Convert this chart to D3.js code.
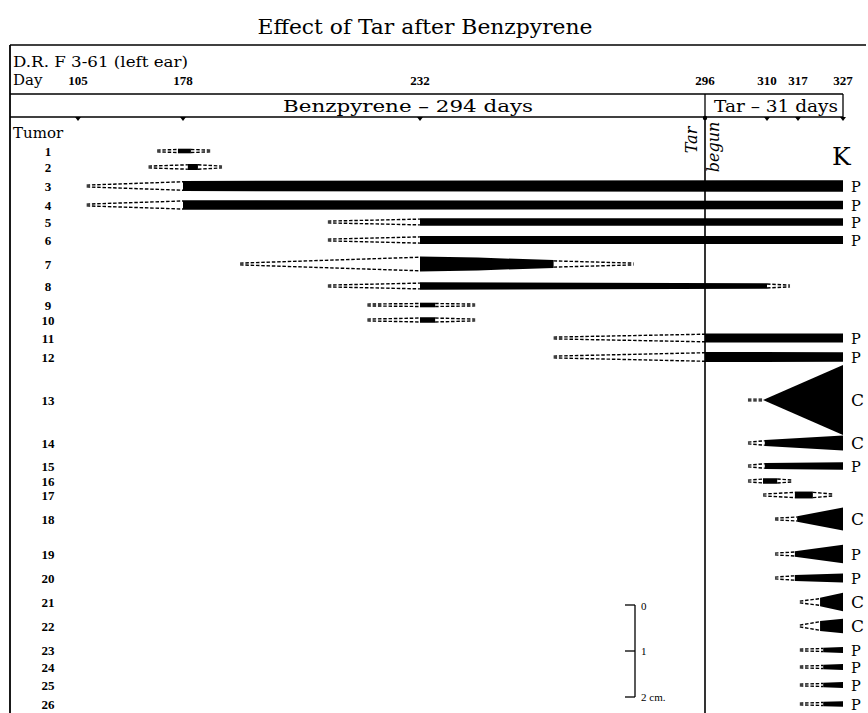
<!DOCTYPE html>
<html><head><meta charset="utf-8">
<script src="https://cdn.jsdelivr.net/npm/d3@7"></script>
<style>body{margin:0;background:#fff} svg{display:block} text{fill:#000}</style>
</head><body><svg id="c" width="868" height="713"></svg>
<script>
// ---------- data ----------
const title = "Effect of Tar after Benzpyrene";
const subject = "D.R. F 3-61 (left ear)";
const tickDays = [105, 178, 232, 296, 310, 317, 327];
const tarBegunDay = 296;
const lastDay = 327;
const phaseLabels = ["Benzpyrene – 294 days", "Tar – 31 days"];
const tumors = [1,2,3,4,5,6,7,8,9,10,11,12,13,14,15,16,17,18,19,20,21,22,23,24,25,26];
// day the dashed (not yet measurable) lead-in starts
const leadStart = [160,154,111,111,211,211,191,211,220,220,262,262,305.7,305.7,305.7,305.7,309.1,311.8,311.8,311.8,317.4,317.4,317.4,317.4,317.4,317.4];
// solid growth: days and diameters (cm)
const solidDays = [
  [174.5,179.8],[179.1,181.4],[178,327],[178,327],[232,327],[232,327],[232,245,262],[232,310],
  [232,235.4],[232,235.4],[296,327],[296,327],[309.1,327],[309.5,327],[309.5,327],[309.1,312.3],
  [316.3,320.3],[316.8,327],[316.3,327],[316.3,327],[321.9,327],[321.9,327],[322.6,327],[322.6,327],[322.6,327],[322.6,327]];
const solidSizes = [
  [0.1,0.1],[0.13,0.13],[0.22,0.25],[0.21,0.18],[0.16,0.16],[0.17,0.17],[0.33,0.28,0.17],[0.16,0.12],
  [0.1,0.1],[0.12,0.12],[0.2,0.2],[0.22,0.21],[0,1.52],[0.13,0.33],[0.13,0.16],[0.12,0.12],
  [0.15,0.15],[0.12,0.5],[0.12,0.4],[0.13,0.2],[0.18,0.4],[0.22,0.32],[0.1,0.13],[0.1,0.13],[0.1,0.13],[0.1,0.12]];
// day the dashed regression tail ends (null = none)
const tailEnd = [184.2,186.9,null,null,null,null,280,315.2,244.4,244.4,null,null,null,null,null,315.6,324.9,null,null,null,null,null,null,null,null,null];
const outcome = ["","","P","P","P","P","","","","","P","P","C","C","P","","","C","P","P","C","C","P","P","P","P"];
const scaleBarTicks = [0, 1, 2];

// ---------- layout ----------
const svg = d3.select("#c");
const serif = "DejaVu Serif";
const num = "Liberation Serif";
const frameL = 10, frameTop = 45, bandTop = 94, bandBot = 117;

const x = d3.scaleLinear().domain(tickDays).range([78,183,420,705,767,798,843]);
const yRow = d3.scaleOrdinal().domain(tumors)
  .range([151,167,186,205,222,240,264,286,305,320,338,357,400,443,466,481,495,519,554,578,602,626,650,667,685,704]);
const size = d3.scaleLinear().domain([0,2]).range([0,92]); // cm -> px

// title
svg.append("text").attr("x",425).attr("y",34).attr("text-anchor","middle")
  .attr("font-family",serif).attr("font-size",20).attr("textLength",335).attr("lengthAdjust","spacingAndGlyphs").text(title);

// frame
svg.append("line").attr("x1",frameL).attr("x2",866).attr("y1",frameTop).attr("y2",frameTop).attr("stroke","#000").attr("stroke-width",1.5);
svg.append("line").attr("x1",frameL).attr("x2",frameL).attr("y1",frameTop).attr("y2",713).attr("stroke","#000").attr("stroke-width",1.8);

svg.append("text").attr("x",13).attr("y",67).attr("font-family",serif).attr("font-size",14)
  .attr("textLength",175).attr("lengthAdjust","spacingAndGlyphs").text(subject);
svg.append("text").attr("x",13).attr("y",85).attr("font-family",serif).attr("font-size",15).text("Day");

svg.selectAll(".tk").data(tickDays).join("text").attr("class","tk")
  .attr("x",d=>x(d)).attr("y",85).attr("text-anchor","middle")
  .attr("font-family",num).attr("font-weight","bold").attr("font-size",13).text(d=>d);

// band
const band = svg.append("g").attr("stroke","#000").attr("stroke-width",1.3);
band.append("line").attr("x1",frameL).attr("x2",x(lastDay)).attr("y1",bandTop).attr("y2",bandTop);
band.append("line").attr("x1",frameL).attr("x2",x(lastDay)).attr("y1",bandBot).attr("y2",bandBot);
band.append("line").attr("x1",x(tarBegunDay)).attr("x2",x(tarBegunDay)).attr("y1",bandTop).attr("y2",bandBot);
band.append("line").attr("x1",x(lastDay)).attr("x2",x(lastDay)).attr("y1",bandTop).attr("y2",bandBot);
svg.append("text").attr("x",283).attr("y",112).attr("font-family",serif).attr("font-size",16)
  .attr("textLength",250).attr("lengthAdjust","spacingAndGlyphs").text(phaseLabels[0]);
svg.append("text").attr("x",x(tarBegunDay)+9).attr("y",112).attr("font-family",serif).attr("font-size",16)
  .attr("textLength",124).attr("lengthAdjust","spacingAndGlyphs").text(phaseLabels[1]);

// tick markers
svg.selectAll(".tri").data(tickDays.filter(d=>d!==tarBegunDay)).join("path").attr("class","tri")
  .attr("d",d=>`M${x(d)-3},${bandBot}L${x(d)+3},${bandBot}L${x(d)},${bandBot+4}Z`).attr("fill","#000");
svg.append("circle").attr("cx",x(tarBegunDay)).attr("cy",bandBot+1).attr("r",2.2).attr("fill","#000");

// tar begun line
svg.append("line").attr("x1",x(tarBegunDay)).attr("x2",x(tarBegunDay)).attr("y1",bandBot).attr("y2",713)
  .attr("stroke","#000").attr("stroke-width",1.6);
svg.append("text").attr("transform",`translate(${x(tarBegunDay)-8},140) rotate(-90)`).attr("text-anchor","middle")
  .attr("font-family",serif).attr("font-style","italic").attr("font-size",16).text("Tar");
svg.append("text").attr("transform",`translate(${x(tarBegunDay)+14},147) rotate(-90)`).attr("text-anchor","middle")
  .attr("font-family",serif).attr("font-style","italic").attr("font-size",16).text("begun");

svg.append("text").attr("x",13).attr("y",138).attr("font-family",serif).attr("font-size",15).text("Tumor");
svg.append("text").attr("x",832).attr("y",165).attr("font-family",serif).attr("font-size",25).text("K");

// rows
const area = d3.area().x(d=>x(d.day)).y0(d=>d.cy - size(d.s)/2).y1(d=>d.cy + size(d.s)/2);
const dashLine = (g, x1,y1,x2,y2) => g.append("line").attr("x1",x1).attr("y1",y1).attr("x2",x2).attr("y2",y2)
   .attr("stroke","#000").attr("stroke-width",1.4).attr("stroke-dasharray","3.5,1.8");

tumors.forEach((t,i) => {
  const cy = yRow(t);
  const g = svg.append("g");
  g.append("text").attr("x",48).attr("y",cy+4.5).attr("text-anchor","middle")
    .attr("font-family",num).attr("font-weight","bold").attr("font-size",13).text(t);
  const pts = solidDays[i].map((d,k)=>({day:d, s:solidSizes[i][k], cy}));
  // lead-in
  const h0 = size(pts[0].s)/2;
  const xs = x(leadStart[i]), x0 = x(pts[0].day);
  dashLine(g, xs, cy-0.9, x0, cy-Math.max(h0-0.8,0.9));
  dashLine(g, xs, cy+0.9, x0, cy+Math.max(h0-0.8,0.9));
  // solid
  g.append("path").attr("d",area(pts)).attr("fill","#000");
  // tail
  if (tailEnd[i] !== null) {
    const last = pts[pts.length-1], h1 = size(last.s)/2, x1 = x(last.day), xe = x(tailEnd[i]);
    dashLine(g, x1, cy-Math.max(h1-0.8,0.9), xe, cy-0.9);
    dashLine(g, x1, cy+Math.max(h1-0.8,0.9), xe, cy+0.9);
  }
  if (outcome[i]) {
    g.append("text").attr("x",851).attr("y",cy+5.5).attr("font-family",serif)
      .attr("font-size",outcome[i]==="C"?17:14.5).text(outcome[i]);
  }
});

// scale bar
const sbX = 635, sbTop = 605;
const sb = svg.append("g").attr("stroke","#000").attr("stroke-width",1.3);
sb.append("line").attr("x1",sbX).attr("x2",sbX).attr("y1",sbTop+size(0)).attr("y2",sbTop+size(2));
sb.selectAll(".st").data(scaleBarTicks).join("line").attr("x1",sbX-10).attr("x2",sbX)
  .attr("y1",d=>sbTop+size(d)).attr("y2",d=>sbTop+size(d));
svg.selectAll(".sl").data(scaleBarTicks).join("text").attr("class","sl")
  .attr("x",sbX+6).attr("y",(d,i)=>sbTop+size(d)+(i===0?5:4)).attr("font-family",num).attr("font-size",11)
  .attr("fill","#000").text(d=>d===2?"2 cm.":d);
</script></body></html>
